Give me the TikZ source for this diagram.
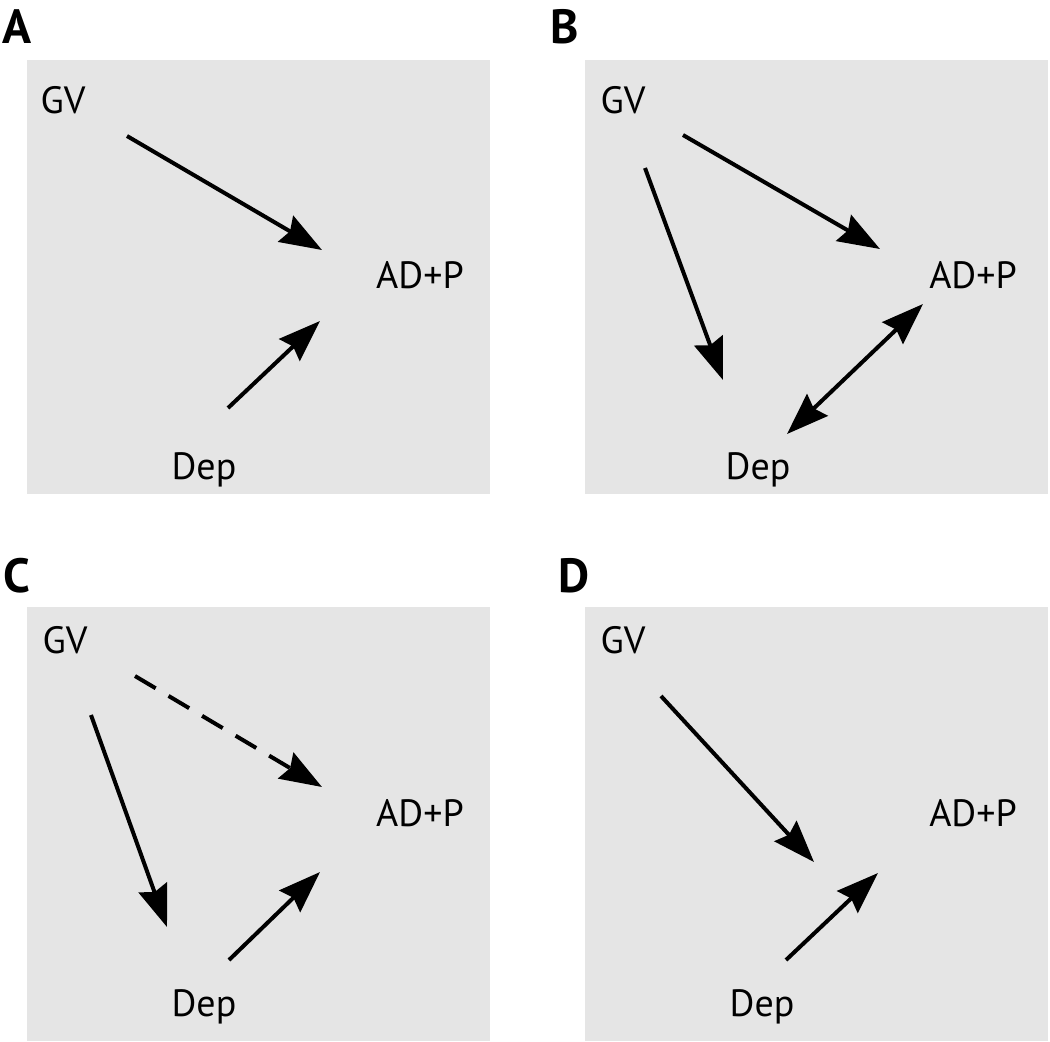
\documentclass[tikz,border=0pt]{standalone}
\usepackage{fontspec}
\setmainfont{PT Sans}
\usetikzlibrary{arrows.meta}
\tikzset{
    BX/.style ={fill=black!10, draw=none},
    TX/.style ={anchor=base, inner sep=0pt, font=\fontsize{19}{22}\selectfont},
    LB/.style ={anchor=base, inner sep=0pt, font=\fontsize{24}{28}\selectfont\bfseries},
    AR/.style ={->, line width=2pt},
    DA/.style ={AR, dash pattern=on 12pt off 7.5pt},
    >={Stealth[length=21pt,width=15pt,inset=2.5pt]}}
\begin{document}
\begin{tikzpicture}[x=0.5pt,y=-0.5pt]
        \useasboundingbox (0,0) rectangle (1050,1041);
        % panels
        \fill[BX] (27,60) rectangle (490,494);
        \fill[BX] (585,60) rectangle (1048,494);
        \fill[BX] (27,607) rectangle (490,1041);
        \fill[BX] (585,607) rectangle (1048,1041);
        \node[LB] (LA) at (17,43){A};
        \node[LB] (LBB) at (565,43){B};
        \node[LB] (LC) at (17,592){C};
        \node[LB] (LD) at (574,592){D};
        % A
        \node[TX] (GV1) at (63,113){GV};
        \node[TX] (AD1) at (420,288){AD+P};
        \node[TX] (Dep1) at (204,479){Dep};
        \coordinate (a1) at (127,136);
        \coordinate (a2) at (322,250);
        \coordinate (a3) at (228,408);
        \coordinate (a4) at (320,321);
        \draw[AR] (a1) -- (a2);
        \draw[AR] (a3) -- (a4);
        % B
        \node[TX] (GV2) at (623,113){GV};
        \node[TX] (AD2) at (973,288){AD+P};
        \node[TX] (Dep2) at (758,479){Dep};
        \coordinate (b1) at (683,135);
        \coordinate (b2) at (880,249);
        \coordinate (b3) at (645,168);
        \coordinate (b4) at (723,380);
        \coordinate (b5) at (787,434);
        \coordinate (b6) at (923,304);
        \draw[AR] (b1) -- (b2);
        \draw[AR] (b3) -- (b4);
        \draw[AR,<->] (b5) -- (b6);
        % C
        \node[TX] (GV3) at (65,653){GV};
        \node[TX] (AD3) at (420,826){AD+P};
        \node[TX] (Dep3) at (204,1016){Dep};
        \coordinate (c1) at (135,676);
        \coordinate (c2) at (322,787);
        \coordinate (c3) at (91,715);
        \coordinate (c4) at (167,927);
        \coordinate (c5) at (229,960);
        \coordinate (c6) at (320,872);
        \draw[DA] (c1) -- (c2);
        \draw[AR] (c3) -- (c4);
        \draw[AR] (c5) -- (c6);
        % D
        \node[TX] (GV4) at (623,653){GV};
        \node[TX] (AD4) at (973,826){AD+P};
        \node[TX] (Dep4) at (762,1016){Dep};
        \coordinate (d1) at (661,696);
        \coordinate (d2) at (814,862);
        \coordinate (d3) at (786,960);
        \coordinate (d4) at (878,873);
        \draw[AR] (d1) -- (d2);
        \draw[AR] (d3) -- (d4);
    \end{tikzpicture}
\end{document}
